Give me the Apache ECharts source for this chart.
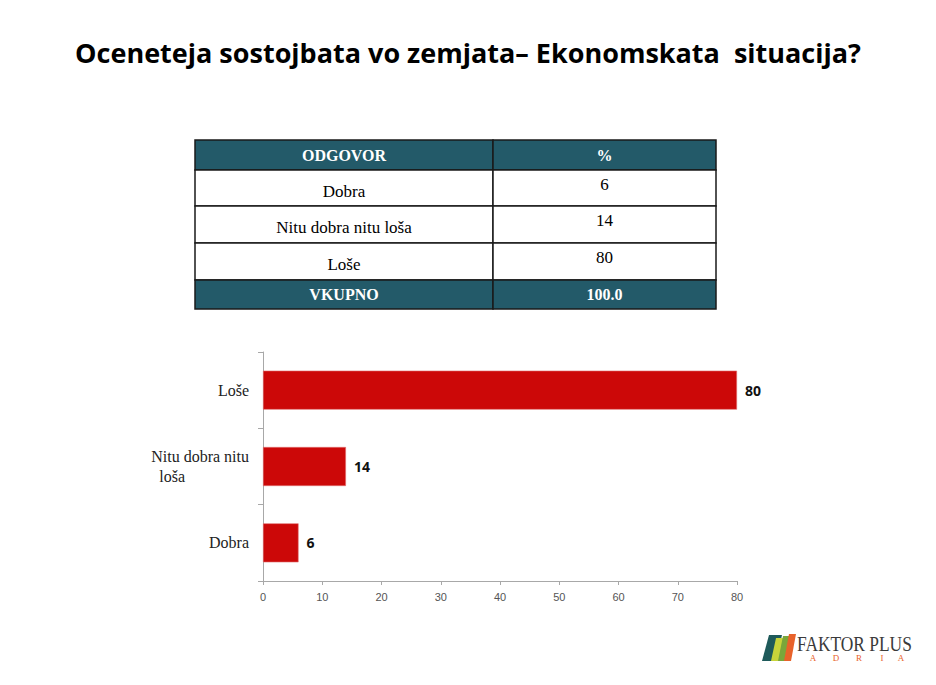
<!DOCTYPE html>
<html><head><meta charset="utf-8">
<script src="https://cdn.jsdelivr.net/npm/echarts@6/dist/echarts.min.js"></script>
<style>html,body{margin:0;padding:0;background:#fff}#c{width:936px;height:685px}</style>
</head><body><div id="c"></div>
<script>
const title = 'Oceneteja sostojbata vo zemjata– Ekonomskata  situacija?';
const categories = ['Dobra', 'Nitu dobra nitu loša', 'Loše'];
const values = [6, 14, 80];
const tableHeader = ['ODGOVOR', '%'];
const tableRows = [['Dobra', '6'], ['Nitu dobra nitu loša', '14'], ['Loše', '80']];
const tableFooter = ['VKUPNO', '100.0'];
const xTicks = [0, 10, 20, 30, 40, 50, 60, 70, 80];

const chart = echarts.init(document.getElementById('c'), null, {renderer: 'svg'});

// table graphics
const tX0 = 195, tX1 = 493, tX2 = 716;
const rowYs = [140, 170, 206, 243, 280, 309];
const teal = '#235a69';
const g = [];
const allRows = [tableHeader].concat(tableRows).concat([tableFooter]);
allRows.forEach((r, i) => {
  const y0 = rowYs[i], y1 = rowYs[i + 1];
  const dark = (i === 0 || i === allRows.length - 1);
  [[tX0, tX1], [tX1, tX2]].forEach((cx, j) => {
    g.push({type: 'rect', shape: {x: cx[0], y: y0, width: cx[1] - cx[0], height: y1 - y0},
      style: {fill: dark ? teal : '#fff', stroke: '#1a1a1a', lineWidth: 1.5}, z: 1});
    const isNumCell = (j === 1 && !dark);
    g.push({type: 'text', x: (cx[0] + cx[1]) / 2, y: isNumCell ? (y0 + y1) / 2 - 4 : (y0 + y1) / 2 + (dark ? 0 : 3),
      style: {text: r[j], fill: dark ? '#fff' : '#000', font: (dark ? 'bold 16px' : '17px') + ' "Liberation Serif", serif',
        textAlign: 'center', textVerticalAlign: 'middle'}, z: 2});
  });
});
// logo
g.push({type: 'polygon', shape: {points: [[769, 635], [782, 635], [776, 661], [762, 661]]}, style: {fill: '#1e5a5a'}});
g.push({type: 'polygon', shape: {points: [[776, 638], [784, 638], [779, 661], [771, 661]]}, style: {fill: '#c8d43a'}});
g.push({type: 'polygon', shape: {points: [[783, 636], [790, 636], [785, 661], [778, 661]]}, style: {fill: '#7aa63a'}});
g.push({type: 'polygon', shape: {points: [[789, 634], [796, 634], [791, 661], [784, 661]]}, style: {fill: '#e8622a'}});
g.push({type: 'text', x: 797, y: 644, scaleX: 0.87,
  style: {text: 'FAKTOR PLUS', fill: '#3a3a3a', font: '20px "Liberation Serif", serif', textVerticalAlign: 'middle'}});
[['A', 813], ['D', 836], ['R', 859], ['I', 882], ['A', 901]].forEach(p => {
  g.push({type: 'text', x: p[1], y: 658, style: {text: p[0], fill: '#e8622a', font: '9px "Liberation Serif", serif',
    textAlign: 'center', textVerticalAlign: 'middle'}});
});

chart.setOption({
  animation: false,
  title: {text: title, left: 'center', top: 34,
    textStyle: {fontFamily: '"Open Sans", sans-serif', fontWeight: 'bold', fontSize: 27, color: '#000'}},
  grid: {left: 263, right: 199, top: 352, bottom: 104},
  xAxis: {type: 'value', min: 0, max: 80, interval: 10,
    axisLine: {show: true, lineStyle: {color: '#a8a8a8'}},
    axisTick: {show: true, length: 4, lineStyle: {color: '#a8a8a8'}},
    splitLine: {show: false},
    axisLabel: {color: '#555', fontSize: 11, margin: 10, fontFamily: '"Liberation Sans", sans-serif',
      formatter: v => xTicks.includes(v) ? String(v) : ''}},
  yAxis: {type: 'category', data: categories,
    axisLine: {show: true, lineStyle: {color: '#a8a8a8'}},
    axisTick: {show: true, length: 5, lineStyle: {color: '#a8a8a8'}},
    axisLabel: {color: '#222', fontSize: 16, margin: 14, fontFamily: '"Liberation Serif", serif', lineHeight: 20,
      formatter: v => {
        const w = v.split(' ');
        if (w.length <= 3) return v;
        return '{a|' + w.slice(0, 3).join(' ') + '}\n{b|' + w.slice(3).join(' ') + '}';
      },
      rich: {
        a: {fontSize: 16, fontFamily: '"Liberation Serif", serif', color: '#222', lineHeight: 20},
        b: {fontSize: 16, fontFamily: '"Liberation Serif", serif', color: '#222', lineHeight: 20, width: 82, align: 'left', padding: [0, 0, 0, 8]}
      }}},
  series: [{type: 'bar', data: values, barWidth: 39,
    itemStyle: {color: '#cc0808', borderColor: '#e07070', borderWidth: 0.6},
    label: {show: true, position: 'right', distance: 8, color: '#111', fontWeight: 'bold', fontSize: 14,
      fontFamily: '"Open Sans", sans-serif'}}],
  graphic: g
});
</script></body></html>
